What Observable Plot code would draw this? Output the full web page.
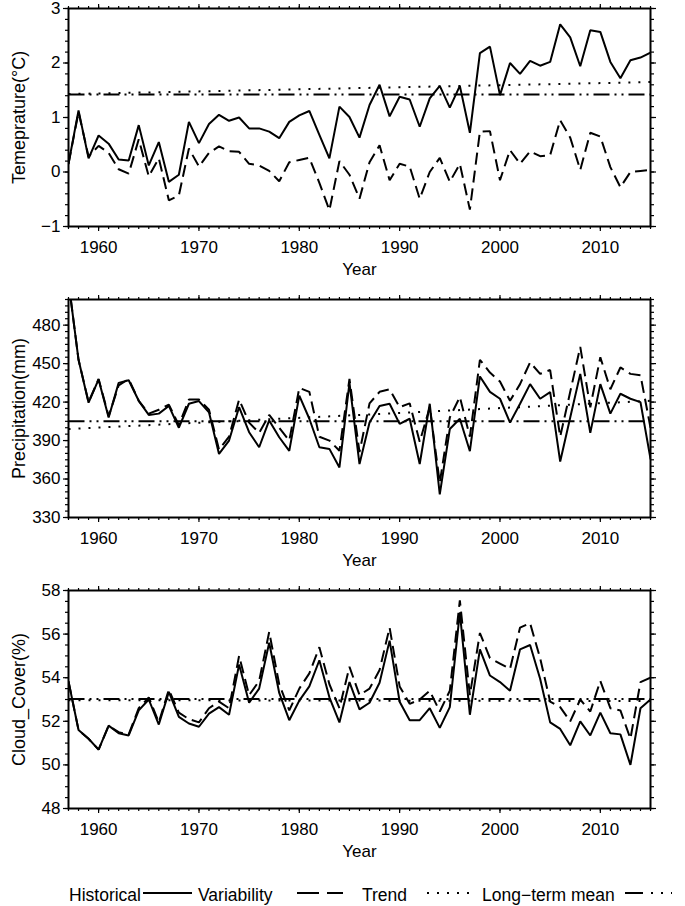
<!DOCTYPE html>
<html><head><meta charset="utf-8">
<script src="https://cdn.jsdelivr.net/npm/d3@7"></script>
<script src="https://cdn.jsdelivr.net/npm/@observablehq/plot@0.6"></script>
<style>
body{margin:0;background:#fff;font-family:"Liberation Sans",Arial,sans-serif;}
#wrap{position:relative;width:685px;height:906px;overflow:hidden;}
#wrap svg{display:block}
</style></head><body><div id="wrap"></div>
<script>
// ---------- data ----------
const firstYear = 1957, lastYear = 2015;
const years = d3.range(firstYear, lastYear + 1);
const trendYears = [1957, 2015];
const majorYears = [1960, 1970, 1980, 1990, 2000, 2010];

const tempHistorical = [
  0.15, 1.13, 0.25, 0.67, 0.52, 0.23, 0.21, 0.86, 0.12, 0.55,
  -0.18, -0.05, 0.92, 0.53, 0.88, 1.05, 0.94, 1.00, 0.80, 0.80,
  0.74, 0.62, 0.92, 1.04, 1.12, 0.68, 0.25, 1.20, 1.01, 0.63,
  1.23, 1.60, 1.02, 1.38, 1.33, 0.83, 1.35, 1.58, 1.18, 1.58,
  0.72, 2.18, 2.30, 1.41, 2.00, 1.80, 2.04, 1.95, 2.02, 2.71,
  2.47, 1.94, 2.60, 2.57, 2.02, 1.72, 2.05, 2.10, 2.19];
const tempVariability = [
  0.15, 1.10, 0.28, 0.48, 0.35, 0.05, -0.03, 0.60, -0.08, 0.25,
  -0.52, -0.43, 0.43, 0.10, 0.35, 0.47, 0.38, 0.37, 0.15, 0.12,
  0.02, -0.17, 0.18, 0.22, 0.26, -0.20, -0.70, 0.20, -0.05, -0.49,
  0.18, 0.49, -0.15, 0.15, 0.10, -0.49, 0.00, 0.26, -0.18, 0.15,
  -0.69, 0.74, 0.75, -0.15, 0.40, 0.15, 0.38, 0.29, 0.31, 0.95,
  0.63, 0.04, 0.72, 0.65, 0.09, -0.28, 0.00, 0.02, 0.04];
const tempTrend = [1.43, 1.65];
const tempMean = 1.42;

const precHistorical = [
  514, 453, 419.5, 437.7, 408, 435, 437, 421, 410, 411,
  417, 400, 418.7, 420.8, 412, 379.6, 390, 416, 396.5, 384.8,
  405.7, 392.6, 382, 425, 407, 384.8, 383.5, 369, 435, 371.7,
  404, 417, 418.7, 403, 407, 371.7, 418.7, 348, 399, 407,
  381.7, 440, 428, 422.6, 404, 418.7, 434, 422.6, 427.8, 373.6,
  408, 442, 396, 434, 411, 426.5, 422.6, 420, 375.7];
const precVariability = [
  514, 453, 420, 438, 409, 433, 438, 421, 411, 414,
  418, 402, 422, 422, 414, 383, 393, 422, 404, 396,
  410, 400, 390, 431, 428, 393, 390, 382, 438, 381,
  419, 428, 430, 416, 419, 389, 416, 357, 408, 424,
  393, 453, 443, 436, 421, 434, 451, 442, 445, 393,
  428, 463, 416, 455, 430, 447, 442, 441, 400];
const precTrend = [399, 421];
const precMean = 405;

const cloudHistorical = [
  53.83, 51.6, 51.2, 50.7, 51.8, 51.45, 51.35, 52.5, 53.0, 51.85,
  53.35, 52.2, 51.9, 51.75, 52.35, 52.65, 52.3, 54.6, 52.85, 53.5,
  55.6, 53.3, 52.05, 52.95, 53.6, 54.8, 53.1, 51.95, 53.8, 52.55,
  52.85, 53.77, 55.7, 52.9, 52.05, 52.05, 52.6, 51.7, 52.65, 57.0,
  52.3, 55.3, 54.1, 53.8, 53.4, 55.3, 55.5, 53.95, 51.95, 51.65,
  50.9, 52.0, 51.35, 52.4, 51.45, 51.4, 50.0, 52.6, 53.0];
const cloudVariability = [
  53.83, 51.6, 51.2, 50.7, 51.8, 51.5, 51.4, 52.6, 53.1, 51.95,
  53.45, 52.4, 52.1, 51.95, 52.6, 52.9, 52.6, 55.0, 53.2, 53.85,
  56.1, 53.7, 52.5, 53.5, 54.2, 55.4, 53.7, 52.6, 54.5, 53.2,
  53.5, 54.35, 56.3, 53.6, 52.8, 53.0, 53.4, 52.45, 53.4, 57.55,
  53.2, 56.05, 54.9, 54.65, 54.4, 56.3, 56.5, 54.9, 52.9, 52.65,
  52.0, 53.0, 52.45, 53.85, 52.6, 52.5, 51.2, 53.8, 54.0];
const cloudTrend = [52.97, 52.93];
const cloudMean = 53.02;

const legendLabels = ["Historical", "Variability", "Trend", "Long\u2212term mean"];

// ---------- styles ----------
const FONT = "Liberation Sans, Arial, Helvetica, sans-serif";
const DASH_VAR = "12,6";
const DASH_TREND = "2,8";
const DASH_MEAN = "16,5,2,5,2,5";
const fmtNum = d => (d < 0 ? "\u2212" : "") + String(Math.abs(d));

function panel({hist, vari, trend, mean, yDomain, yTicks, yStep, label}) {
  const rows = years.map((year, i) => ({year, hist: hist[i], vari: vari[i]}));
  const trendRows = trendYears.map((year, i) => ({year, value: trend[i]}));
  const meanRows = trendYears.map(year => ({year, value: mean}));
  const yMinor = d3.range(yDomain[0], yDomain[1] + yStep / 2, yStep);
  const tickStyle = {stroke: "#000", strokeWidth: 1.2};
  return Plot.plot({
    width: 685, height: 291,
    marginTop: 8, marginRight: 35, marginBottom: 65, marginLeft: 68,
    style: {fontFamily: FONT, fontSize: "17px", color: "#000", background: "#fff", overflow: "visible"},
    x: {domain: [firstYear, lastYear]},
    y: {domain: yDomain},
    marks: [
      // bottom axis
      Plot.axisX({ticks: years, tickSize: 3, fill: "none", label: null, ...tickStyle}),
      Plot.axisX({ticks: majorYears, tickSize: 5, tickPadding: 9, tickFormat: d => String(d),
        label: "Year", labelAnchor: "center", labelArrow: "none", labelOffset: 48, fontSize: 17, ...tickStyle}),
      // top axis
      Plot.axisX({anchor: "top", ticks: years, tickSize: 3, fill: "none", label: null, ...tickStyle}),
      Plot.axisX({anchor: "top", ticks: majorYears, tickSize: 5, fill: "none", label: null, ...tickStyle}),
      // left axis
      Plot.axisY({ticks: yMinor, tickSize: 3, fill: "none", label: null, ...tickStyle}),
      Plot.axisY({ticks: yTicks, tickSize: 5, tickPadding: 3, tickFormat: fmtNum, label: null,
        fontSize: 17, ...tickStyle}),
      Plot.axisY({ticks: [], tickSize: 0, label, labelAnchor: "center", labelArrow: "none",
        labelOffset: 56, fontSize: 18}),
      // right axis
      Plot.axisY({anchor: "right", ticks: yMinor, tickSize: 3, fill: "none", label: null, ...tickStyle}),
      Plot.axisY({anchor: "right", ticks: yTicks, tickSize: 5, fill: "none", label: null, ...tickStyle}),
      // series
      Plot.line(meanRows, {x: "year", y: "value", stroke: "#000", strokeWidth: 2,
        strokeDasharray: DASH_MEAN, strokeLinecap: "butt", clip: true}),
      Plot.line(trendRows, {x: "year", y: "value", stroke: "#000", strokeWidth: 2,
        strokeDasharray: DASH_TREND, strokeLinecap: "butt", clip: true}),
      Plot.line(rows, {x: "year", y: "vari", stroke: "#000", strokeWidth: 2,
        strokeDasharray: DASH_VAR, strokeLinecap: "butt", strokeLinejoin: "miter", clip: true}),
      Plot.line(rows, {x: "year", y: "hist", stroke: "#000", strokeWidth: 2,
        strokeLinejoin: "miter", clip: true}),
      Plot.frame({stroke: "#000", strokeWidth: 2})
    ]
  });
}

const wrap = document.getElementById("wrap");
wrap.append(panel({hist: tempHistorical, vari: tempVariability, trend: tempTrend, mean: tempMean,
  yDomain: [-1, 3], yTicks: [-1, 0, 1, 2, 3], yStep: 0.2, label: "Temeprature(\u00B0C)"}));
wrap.append(panel({hist: precHistorical, vari: precVariability, trend: precTrend, mean: precMean,
  yDomain: [330, 500], yTicks: [330, 360, 390, 420, 450, 480], yStep: 5, label: "Precipitation(mm)"}));
wrap.append(panel({hist: cloudHistorical, vari: cloudVariability, trend: cloudTrend, mean: cloudMean,
  yDomain: [48, 58], yTicks: [48, 50, 52, 54, 56, 58], yStep: 0.5, label: "Cloud_Cover(%)"}));

// ---------- legend ----------
const NS = "http://www.w3.org/2000/svg";
const leg = document.createElementNS(NS, "svg");
leg.setAttribute("width", 685); leg.setAttribute("height", 33);
leg.setAttribute("font-family", FONT); leg.setAttribute("font-size", 17.5);
const items = [
  {label: legendLabels[0], tx: 141, anchor: "end", x1: 143, x2: 192, dash: null},
  {label: legendLabels[1], tx: 198, anchor: "start", x1: 297, x2: 343, dash: "22,8"},
  {label: legendLabels[2], tx: 362, anchor: "start", x1: 427, x2: 470, dash: DASH_TREND},
  {label: legendLabels[3], tx: 482, anchor: "start", x1: 625, x2: 672, dash: "18,8,2,8,2,8"}
];
for (const it of items) {
  const t = document.createElementNS(NS, "text");
  t.setAttribute("x", it.tx); t.setAttribute("y", 27.5);
  t.setAttribute("text-anchor", it.anchor); t.textContent = it.label;
  leg.append(t);
  const l = document.createElementNS(NS, "line");
  l.setAttribute("x1", it.x1); l.setAttribute("x2", it.x2);
  l.setAttribute("y1", 20); l.setAttribute("y2", 20);
  l.setAttribute("stroke", "#000"); l.setAttribute("stroke-width", 2);
  if (it.dash) l.setAttribute("stroke-dasharray", it.dash);
  leg.append(l);
}
wrap.append(leg);
</script></body></html>
